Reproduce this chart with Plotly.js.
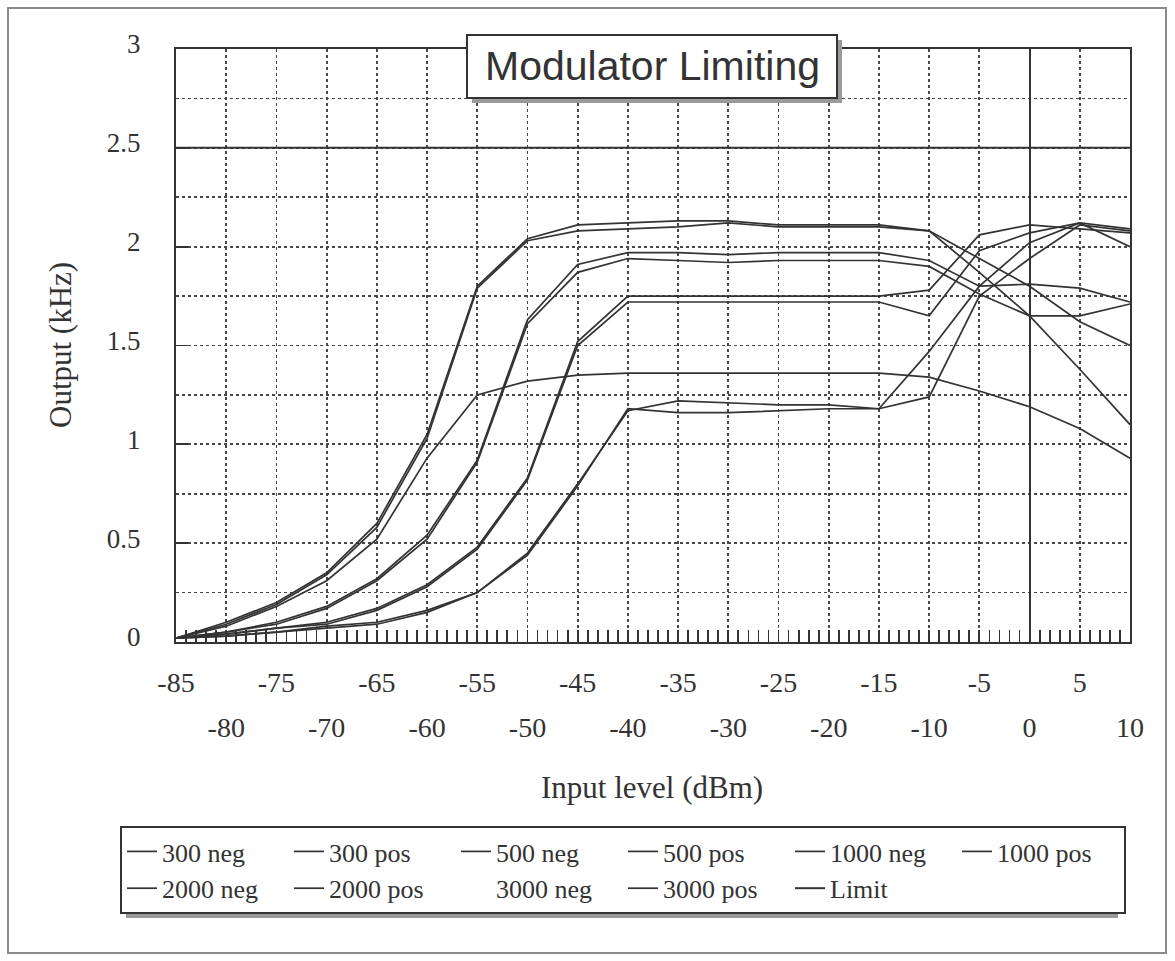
<!DOCTYPE html>
<html>
<head>
<meta charset="utf-8">
<script src="https://cdn.plot.ly/plotly-3.0.1.min.js"></script>
<style>
html,body{margin:0;padding:0;background:#fff;}
#chart{width:1175px;height:961px;}
</style>
</head>
<body>
<div id="chart"></div>
<script>
// ---- data ----
const inputLevel = [-85,-80,-75,-70,-65,-60,-55,-50,-45,-40,-35,-30,-25,-20,-15,-10,-5,0,5,10];

const s300neg  = [0.02,0.03,0.05,0.08,0.10,0.16,0.25,0.45,0.80,1.17,1.22,1.21,1.20,1.20,1.18,1.24,1.75,1.94,2.11,2.08];
const s300pos  = [0.02,0.03,0.05,0.07,0.09,0.15,0.25,0.44,0.79,1.18,1.16,1.16,1.17,1.18,1.18,1.47,1.80,2.02,2.12,2.09];
const s500neg  = [0.02,0.04,0.07,0.10,0.17,0.29,0.48,0.83,1.52,1.75,1.75,1.75,1.75,1.75,1.75,1.78,2.06,2.11,2.09,2.07];
const s500pos  = [0.02,0.04,0.07,0.09,0.16,0.28,0.47,0.82,1.50,1.72,1.72,1.72,1.72,1.72,1.72,1.65,1.98,2.07,2.12,2.00];
const s1000neg = [0.02,0.05,0.10,0.18,0.32,0.54,0.92,1.63,1.91,1.97,1.97,1.96,1.97,1.97,1.97,1.93,1.80,1.81,1.79,1.72];
const s1000pos = [0.02,0.05,0.09,0.17,0.31,0.52,0.91,1.61,1.87,1.94,1.93,1.92,1.93,1.93,1.93,1.90,1.76,1.65,1.65,1.71];
const s2000neg = [0.02,0.10,0.20,0.35,0.60,1.05,1.80,2.04,2.11,2.12,2.13,2.13,2.11,2.11,2.11,2.08,1.87,1.65,1.38,1.10];
const s2000pos = [0.02,0.09,0.19,0.34,0.58,1.03,1.79,2.03,2.08,2.09,2.10,2.12,2.10,2.10,2.10,2.08,1.94,1.80,1.62,1.50];
const s3000neg = [0.02,0.08,0.18,0.31,0.52,0.93,1.25,1.32,1.35,1.36,1.36,1.36,1.36,1.36,1.36,1.34,1.27,1.19,1.08,0.93];
const s3000pos = [0.02,0.08,0.18,0.31,0.52,0.93,1.25,1.32,1.35,1.36,1.36,1.36,1.36,1.36,1.36,1.34,1.27,1.19,1.08,0.93];
const limit    = [2.5,2.5,2.5,2.5,2.5,2.5,2.5,2.5,2.5,2.5,2.5,2.5,2.5,2.5,2.5,2.5,2.5,2.5,2.5,2.5];

const seriesNames = ['300 neg','300 pos','500 neg','500 pos','1000 neg','1000 pos',
                     '2000 neg','2000 pos','3000 neg','3000 pos','Limit'];
const seriesValues = [s300neg,s300pos,s500neg,s500pos,s1000neg,s1000pos,
                      s2000neg,s2000pos,s3000neg,s3000pos,limit];

// tick labels (two staggered rows, as in the reference)
const xTickRow1Vals = [-85,-75,-65,-55,-45,-35,-25,-15,-5,5];
const xTickRow1Text = ['-85','-75','-65','-55','-45','-35','-25','-15','-5','5'];
const xTickRow2Vals = [-80,-70,-60,-50,-40,-30,-20,-10,0,10];
const xTickRow2Text = ['-80','-70','-60','-50','-40','-30','-20','-10','0','10'];
const yTickVals = [0,0.5,1,1.5,2,2.5,3];
const yTickText = ['0','0.5','1','1.5','2','2.5','3'];

const titleText = 'Modulator Limiting';
const xTitle = 'Input level (dBm)';
const yTitle = 'Output (kHz)';

// ---- layout helpers (pixel -> paper) ----
const L = 176, R = 1130, T = 49, B = 642;
const px = p => (p - L) / (R - L);
const py = p => (B - p) / (B - T);

const INK = '#333333';
const GRID = '#474747';
const serif = 'Liberation Serif, Times New Roman, serif';
const sans = 'Liberation Sans, Arial, sans-serif';

const traces = seriesNames.map((name, i) => {
  const hidden = name === '3000 neg';
  return {
    type: 'scatter',
    mode: 'lines',
    name: name,
    x: inputLevel,
    y: seriesValues[i],
    xaxis: hidden ? 'x2' : 'x',
    yaxis: 'y',
    line: {color: hidden ? 'rgba(0,0,0,0)' : INK, width: name === 'Limit' ? 2 : 1.7},
    hoverinfo: 'skip'
  };
});

const layout = {
  width: 1175,
  height: 961,
  margin: {l: L, r: 1175 - R, t: T, b: 961 - B, pad: 0},
  paper_bgcolor: '#ffffff',
  plot_bgcolor: '#ffffff',
  showlegend: true,
  xaxis: {
    range: [-85, 10],
    tickmode: 'array', tickvals: xTickRow1Vals, ticktext: xTickRow1Text,
    showgrid: true, gridcolor: GRID, gridwidth: 1.8, griddash: 'dot',
    zeroline: true, zerolinecolor: INK, zerolinewidth: 2,
    showline: true, mirror: true, linecolor: INK, linewidth: 2,
    ticks: 'inside', ticklen: 12, tickwidth: 1.8, tickcolor: INK,
    minor: {tick0: -85, dtick: 1, ticks: 'inside', ticklen: 12, tickwidth: 1.8, tickcolor: INK, showgrid: false},
    ticklabelstandoff: 14,
    tickfont: {family: serif, size: 28, color: INK},
    fixedrange: true
  },
  xaxis2: {
    overlaying: 'x', matches: 'x', anchor: 'y', side: 'bottom',
    range: [-85, 10],
    tickmode: 'array', tickvals: xTickRow2Vals, ticktext: xTickRow2Text,
    showgrid: true, gridcolor: GRID, gridwidth: 1.8, griddash: 'dot',
    zeroline: false, showline: false, ticks: '',
    ticklabelstandoff: 66,
    tickfont: {family: serif, size: 28, color: INK},
    fixedrange: true
  },
  yaxis: {
    range: [0, 3],
    tickmode: 'array', tickvals: yTickVals, ticktext: yTickText,
    showgrid: true, gridcolor: GRID, gridwidth: 1.8, griddash: 'dot',
    minor: {tick0: 0, dtick: 0.25, showgrid: true, gridcolor: GRID, gridwidth: 1.8, griddash: 'dot', ticks: ''},
    zeroline: false,
    showline: true, mirror: true, linecolor: INK, linewidth: 2,
    ticks: 'inside', ticklen: 12, tickwidth: 1.8, tickcolor: INK,
    ticklabelstandoff: 28, ticklabelshift: -5,
    tickfont: {family: serif, size: 27, color: INK},
    fixedrange: true
  },
  legend: {
    orientation: 'h',
    x: px(120), y: py(826), xanchor: 'left', yanchor: 'top',
    bgcolor: '#ffffff', bordercolor: INK, borderwidth: 2,
    font: {family: serif, size: 26, color: INK},
    entrywidth: 122, entrywidthmode: 'pixels',
    itemwidth: 30, traceorder: 'normal'
  },
  shapes: [
    // outer chart border
    {type: 'rect', xref: 'paper', yref: 'paper', x0: px(8), x1: px(1166), y0: py(8), y1: py(953),
     line: {color: '#8a8a8a', width: 2}, fillcolor: 'rgba(0,0,0,0)', layer: 'below'},
    // legend shadow
    {type: 'rect', xref: 'paper', yref: 'paper', x0: px(126), x1: px(1118), y0: py(832), y1: py(918),
     line: {width: 0}, fillcolor: '#9a9a9a', layer: 'above'},
    // title box shadow
    {type: 'rect', xref: 'paper', yref: 'paper', x0: px(472), x1: px(842), y0: py(40), y1: py(103),
     line: {width: 0}, fillcolor: '#9a9a9a', layer: 'above'},
    // title box
    {type: 'rect', xref: 'paper', yref: 'paper', x0: px(467), x1: px(837), y0: py(35), y1: py(98),
     line: {color: INK, width: 2}, fillcolor: '#ffffff', layer: 'above'}
  ],
  annotations: [
    {text: titleText, xref: 'paper', yref: 'paper', x: px(652), y: py(66),
     xanchor: 'center', yanchor: 'middle', showarrow: false,
     font: {family: sans, size: 41, color: INK}},
    {text: xTitle, xref: 'paper', yref: 'paper', x: px(652), y: py(787),
     xanchor: 'center', yanchor: 'middle', showarrow: false,
     font: {family: serif, size: 31, color: INK}},
    {text: yTitle, xref: 'paper', yref: 'paper', x: px(60), y: py(345),
     xanchor: 'center', yanchor: 'middle', showarrow: false, textangle: -90,
     font: {family: serif, size: 31, color: INK}}
  ]
};

Plotly.newPlot('chart', traces, layout, {staticPlot: true, displayModeBar: false});
</script>
</body>
</html>
